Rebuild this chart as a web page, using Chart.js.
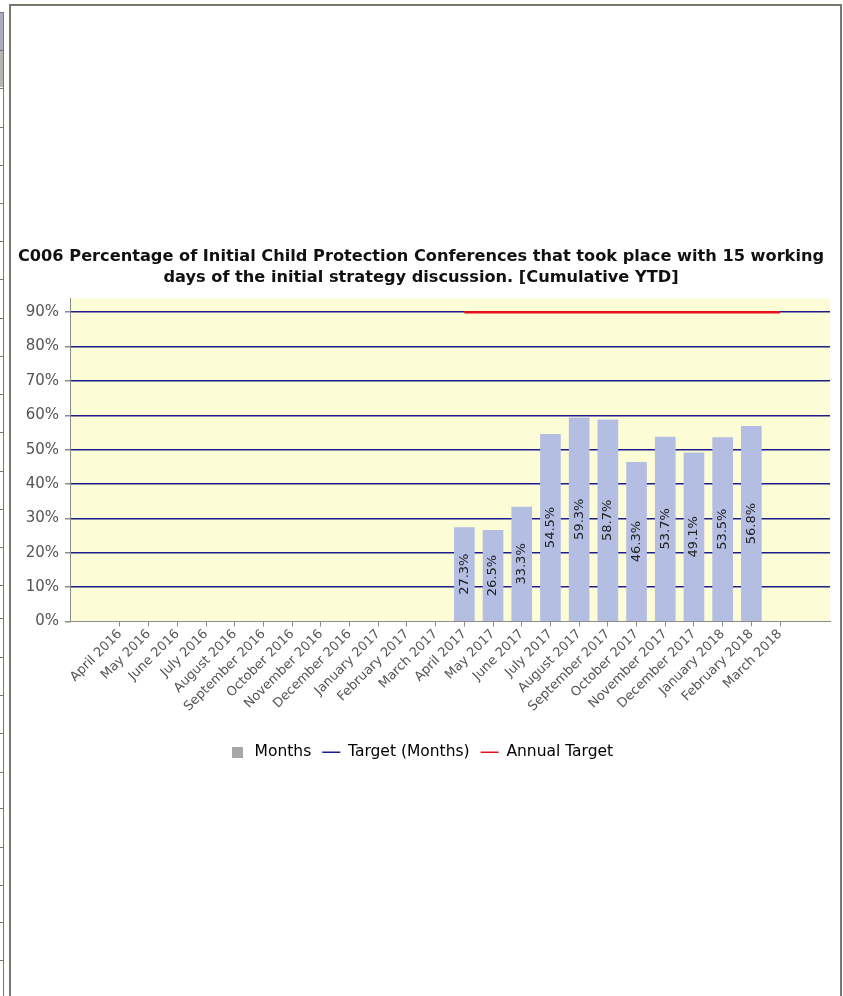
<!DOCTYPE html>
<html>
<head>
<meta charset="utf-8">
<script src="https://cdn.jsdelivr.net/npm/chart.js@4"></script>
<style>
  body { margin: 0; background: #fff; width: 843px; height: 996px; position: relative; overflow: hidden; }
  .ln { position: absolute; background: #77776b; }
  #wrap { position: absolute; left: 12px; top: 247px; width: 826px; height: 523px; }
</style>
</head>
<body>
<!-- page frame -->
<div class="ln" style="left:0;top:12px;width:4px;height:1px"></div>
<div style="position:absolute;left:0;top:13px;width:3px;height:37px;background:#a9abc2"></div>
<div style="position:absolute;left:0;top:51px;width:3px;height:36px;background:#b4b4b0"></div>
<div class="ln" style="left:3px;top:12px;width:1px;height:984px"></div>
<div class="ln" style="left:9px;top:4px;width:2px;height:992px"></div>
<div class="ln" style="left:9px;top:4px;width:833px;height:2px"></div>
<div class="ln" style="left:840px;top:4px;width:2px;height:992px"></div>
<div id="rows"></div>
<div id="wrap"><canvas id="myChart"></canvas></div>
<script>
var months = ['April 2016', 'May 2016', 'June 2016', 'July 2016', 'August 2016', 'September 2016',
  'October 2016', 'November 2016', 'December 2016', 'January 2017', 'February 2017', 'March 2017',
  'April 2017', 'May 2017', 'June 2017', 'July 2017', 'August 2017', 'September 2017',
  'October 2017', 'November 2017', 'December 2017', 'January 2018', 'February 2018', 'March 2018'];
var monthValues = [null, null, null, null, null, null, null, null, null, null, null, null,
  27.3, 26.5, 33.3, 54.5, 59.3, 58.7, 46.3, 53.7, 49.1, 53.5, 56.8, null];
var targetMonths = [null, null, null, null, null, null, null, null, null, null, null, null,
  null, null, null, null, null, null, null, null, null, null, null, null];
var annualTarget = [null, null, null, null, null, null, null, null, null, null, null, null,
  90, 90, 90, 90, 90, 90, 90, 90, 90, 90, 90, 90];
var yTicks = [0, 10, 20, 30, 40, 50, 60, 70, 80, 90];

// rows of the cut off table on the left
var rowLines = [50, 88, 127, 165, 203, 241, 279, 318, 356, 394, 432, 471, 509, 547, 585, 618, 657, 695, 733, 772, 808, 847, 885, 922, 960];
rowLines.forEach((y)=>{
  var d = document.createElement('div');
  d.className = 'ln';
  d.style.cssText = 'left:0;top:' + y + 'px;width:3px;height:1px';
  document.getElementById('rows').appendChild(d);
});

var grey = '#8c8c8c';
var font = "'DejaVu Sans', Verdana, sans-serif";

function pts(arr) {
  return arr.map((v, i)=>{
    return { x: i, y: v };
  });
}

var box = document.createElement('canvas');
box.width = 11; box.height = 11;
var bctx = box.getContext('2d');
bctx.fillStyle = '#a7a7a7';
bctx.fillRect(0, 0, 11, 11);

var plotBg = {
  id: 'plotBg',
  beforeDraw(chart) {
    var a = chart.chartArea, c = chart.ctx;
    c.save();
    c.fillStyle = '#fcfcd7';
    c.fillRect(a.left, a.top, a.right - a.left, a.bottom - a.top);
    c.restore();
  }
};

var barLabels = {
  id: 'barLabels',
  afterDatasetsDraw(chart) {
    var c = chart.ctx;
    var meta = chart.getDatasetMeta(2);
    c.save();
    c.font = '13px ' + font;
    c.fillStyle = '#222';
    c.textAlign = 'center';
    c.textBaseline = 'middle';
    meta.data.forEach((el, i)=>{
      var v = monthValues[i];
      if (v == null) return;
      c.save();
      c.translate(el.x, (el.y + el.base) / 2);
      c.rotate(-Math.PI / 2);
      c.fillText(v.toFixed(1) + '%', 0, 0);
      c.restore();
    });
    c.restore();
  }
};

new Chart(document.getElementById('myChart'), {
  data: {
    datasets: [
      {
        type: 'line',
        label: 'Annual Target',
        data: pts(annualTarget),
        borderColor: '#e8101c',
        borderWidth: 2.5,
        pointRadius: 0,
        order: 1,
      },
      {
        type: 'line',
        label: 'Target (Months)',
        data: pts(targetMonths),
        borderColor: '#1c1c8c',
        borderWidth: 1.5,
        pointRadius: 0,
        order: 1,
      },
      {
        type: 'bar',
        label: 'Months',
        data: pts(monthValues),
        backgroundColor: '#b4bee3',
        barThickness: 20,
        order: 2,
      },
    ],
  },
  plugins: [plotBg, barLabels],
  options: {
    responsive: true,
    maintainAspectRatio: false,
    animation: false,
    layout: { padding: { right: 8, top: 0 } },
    plugins: {
      tooltip: { enabled: false },
      title: {
        display: true,
        text: ['C006 Percentage of Initial Child Protection Conferences that took place with 15 working',
          'days of the initial strategy discussion. [Cumulative YTD]'],
        color: '#111',
        font: { family: font, size: 16.2, weight: 'bold', lineHeight: 1.25 },
        padding: { top: 0, bottom: 11 },
      },
      legend: {
        position: 'bottom',
        labels: {
          color: '#444',
          font: { family: font, size: 15.5 },
          usePointStyle: true,
          pointStyleWidth: 18,
          boxHeight: 11,
          padding: 11,
          generateLabels() {
            return [
              { text: 'Months', pointStyle: box, fillStyle: '#a7a7a7', strokeStyle: '#a7a7a7', lineWidth: 0, datasetIndex: 2 },
              { text: 'Target (Months)', pointStyle: 'line', strokeStyle: '#1c1c8c', lineWidth: 1.5, datasetIndex: 1 },
              { text: 'Annual Target', pointStyle: 'line', strokeStyle: '#e8101c', lineWidth: 1.5, datasetIndex: 0 },
            ];
          },
        },
      },
    },
    scales: {
      x: {
        type: 'linear',
        offset: false,
        min: -1.74,
        max: 24.74,
        afterBuildTicks(scale) {
          scale.ticks = months.map((m, i)=>{
            return { value: i };
          });
        },
        afterFit(scale) {
          scale.height = 112;
        },
        ticks: {
          autoSkip: false,
          maxRotation: 45,
          minRotation: 45,
          color: '#555',
          font: { family: font, size: 13 },
          padding: 0,
          callback(v) {
            return months[v];
          },
        },
        grid: { offset: false, drawOnChartArea: false, tickLength: 5, tickColor: grey },
        border: { color: grey },
      },
      y: {
        min: 0,
        max: 94,
        afterBuildTicks(scale) {
          scale.ticks = yTicks.map((v)=>{
            return { value: v };
          });
        },
        afterFit(scale) {
          scale.width = 58;
        },
        ticks: {
          color: '#555',
          font: { family: font, size: 15 },
          padding: 6,
          callback(v) {
            return v + '%';
          },
        },
        grid: {
          color: (ctx)=> ctx.tick && ctx.tick.value === 0 ? 'rgba(0,0,0,0)' : '#1c1c8c',
          lineWidth: 1.5,
          tickLength: 5,
          tickColor: grey,
        },
        border: { color: grey },
      },
    },
  },
});
</script>
</body>
</html>
